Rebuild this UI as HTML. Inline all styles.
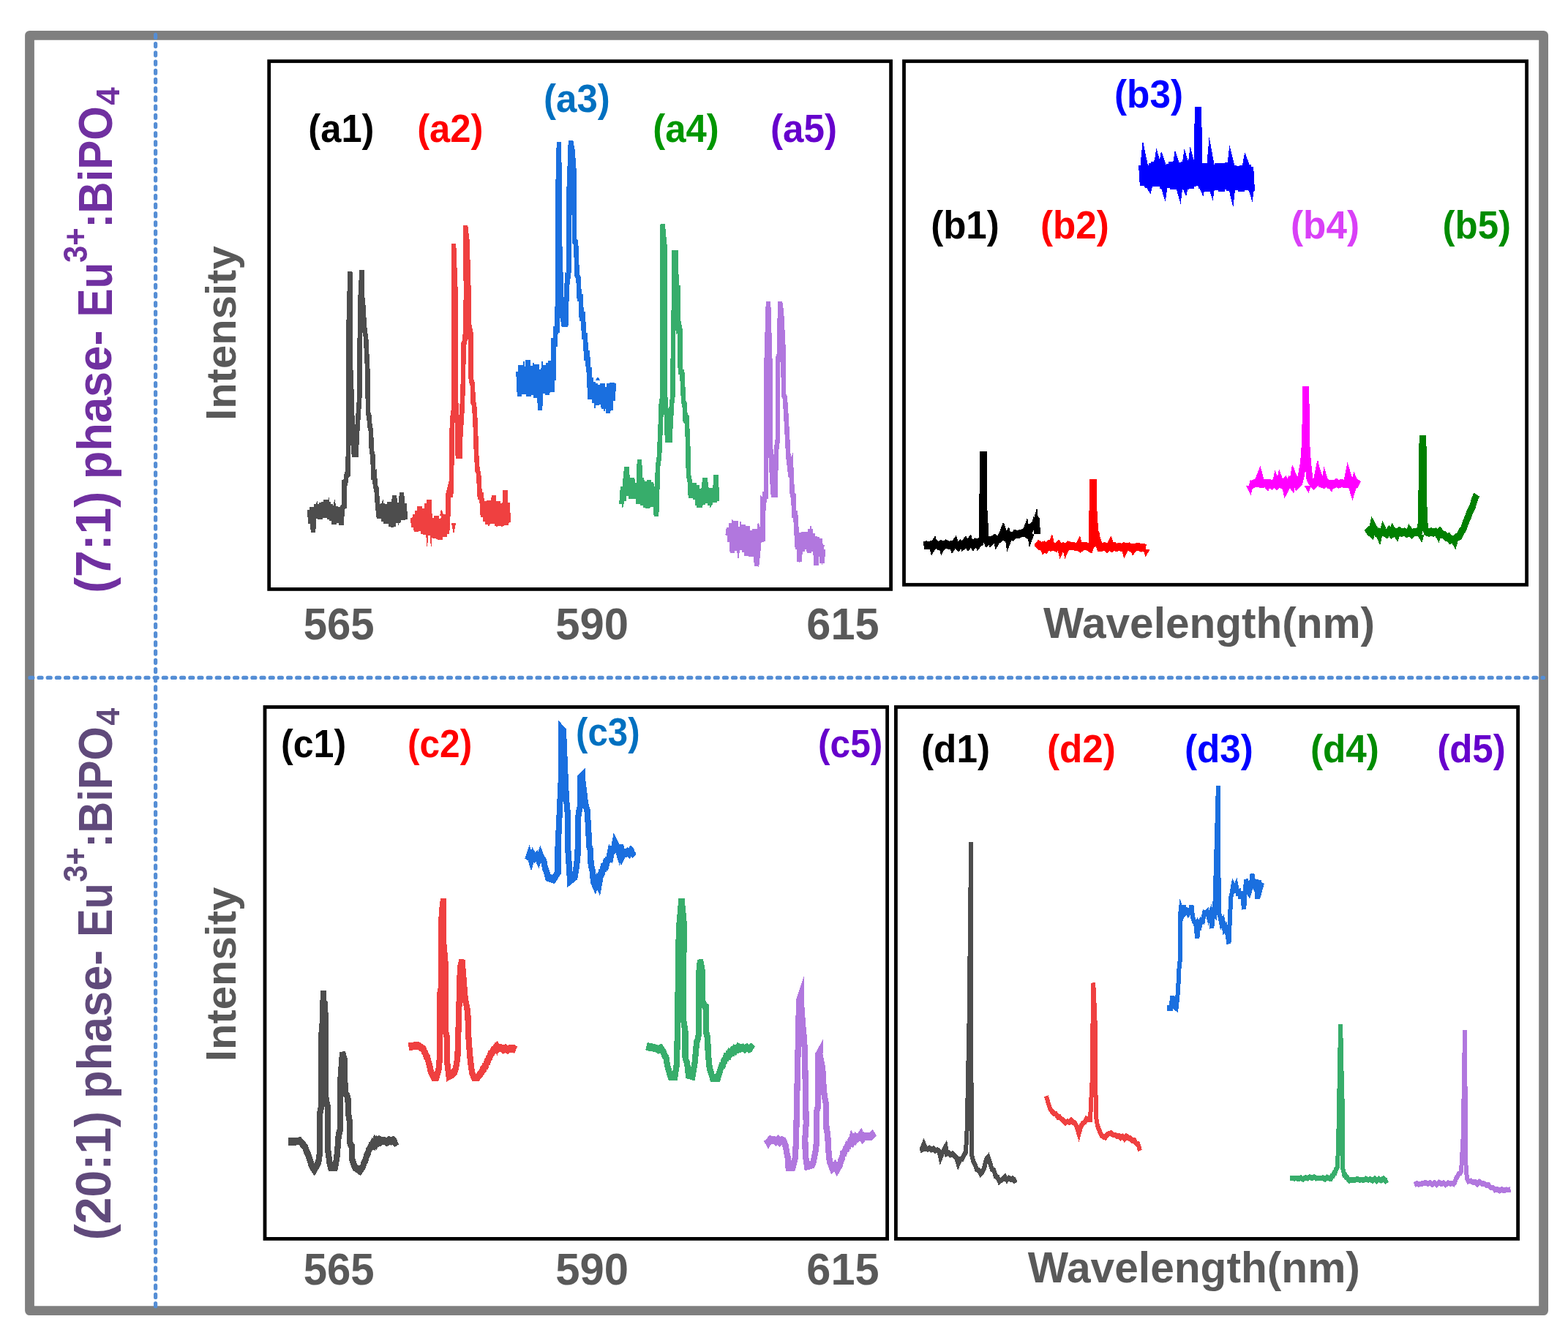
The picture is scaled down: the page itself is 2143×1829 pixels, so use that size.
<!DOCTYPE html>
<html lang="en"><head><meta charset="utf-8"><title>Eu3+:BiPO4 emission spectra</title>
<style>
html,body{margin:0;padding:0;background:#fff;}
body{width:2143px;height:1829px;overflow:hidden;}
svg{display:block;}
text{font-family:"Liberation Sans",sans-serif;font-weight:bold;font-size:100px;}
.sp polyline{fill:none;stroke-linejoin:miter;stroke-linecap:butt;}
.sp{shape-rendering:crispEdges;}
</style></head><body>
<svg xmlns="http://www.w3.org/2000/svg" width="2143" height="1829" viewBox="0 0 2143 1829">
<rect x="0" y="0" width="2143" height="1829" fill="#ffffff"/>
<rect x="40.50" y="48.40" width="2069.10" height="1743.20" fill="none" stroke="#7f7f7f" stroke-width="12.80" stroke-linejoin="round"/>
<g fill="none" stroke="#558ed5" stroke-width="5.2" stroke-linecap="round">
<line x1="212.6" y1="47.4" x2="212.6" y2="1786.2" stroke-dasharray="4 8.213"/>
<line x1="40.9" y1="926.4" x2="2109.5" y2="926.4" stroke-dasharray="4 8.16"/>
</g>
<g fill="none" stroke="#000000" stroke-linejoin="miter">
<rect x="367.70" y="83.70" width="849.90" height="721.70" stroke-width="4.80"/>
<rect x="1235.50" y="83.70" width="851.10" height="715.60" stroke-width="4.80"/>
<rect x="362.00" y="966.50" width="850.60" height="726.90" stroke-width="4.80"/>
<rect x="1224.40" y="966.50" width="850.20" height="726.90" stroke-width="4.80"/>
</g>
<g class="sp">
<polyline transform="scale(1 1.300)" points="423.0,535.9 424.6,550.7 426.2,533.2 428.0,560.0 429.4,533.2 431.0,544.3 432.6,530.0 434.2,545.3 435.9,530.3 437.5,545.7 439.1,528.6 440.7,543.9 442.3,527.9 443.9,544.5 445.5,526.0 447.1,541.7 448.7,528.2 450.3,545.9 451.9,530.0 453.5,547.5 455.1,532.2 456.8,551.5 458.4,532.7 460.0,549.6 461.6,533.5 463.2,546.9 464.8,535.3 466.4,552.1 468.0,533.9 470.5,532.3 470.5,507.7 472.2,507.5 473.8,499.0 475.5,498.5 476.0,469.2 476.5,346.2 478.5,285.8 479.0,384.6 480.5,415.4 482.0,461.5 483.8,477.3 486.8,477.3 487.5,461.5 488.5,450.0 491.5,415.4 492.0,323.1 494.5,284.2 494.5,307.7 496.5,323.1 497.5,338.5 498.8,349.8 500.0,353.8 502.5,392.3 503.0,434.6 504.2,436.3 505.5,448.5 506.8,452.3 508.0,475.1 509.2,478.0 510.5,499.2 511.8,498.4 513.0,511.3 514.5,514.0 516.0,530.8 518.0,544.9 519.6,533.1 521.3,544.4 522.9,529.6 524.5,548.1 526.2,531.0 527.8,550.5 529.5,530.0 531.1,546.6 532.7,527.8 534.4,554.0 536.0,532.7 537.6,553.9 539.0,520.8 540.9,547.6 542.5,534.1 544.2,549.5 545.8,529.1 547.5,545.1 549.0,517.7 550.7,546.6 552.4,529.7 554.0,546.4" stroke="#4d4d4d" stroke-width="6.6" stroke-miterlimit="4"/>
<polyline transform="scale(1 1.300)" points="564.0,544.1 565.6,554.4 567.2,541.5 568.9,558.7 570.5,537.0 572.1,553.6 573.7,532.7 575.3,558.5 577.0,535.2 578.6,561.3 580.2,534.9 581.8,562.0 583.4,529.2 585.1,563.2 586.5,525.4 588.3,561.5 589.9,545.1 591.6,562.7 593.2,544.9 594.8,566.2 596.4,542.8 598.0,560.4 599.7,546.1 601.3,567.5 602.9,545.5 604.5,562.1 606.1,541.2 607.8,564.2 609.4,544.2 611.0,561.3 612.5,538.5 612.5,520.0 614.0,515.5 615.5,522.8 617.0,515.4 617.5,453.8 618.8,437.4 620.0,430.8 620.5,307.7 620.0,256.2 622.5,307.7 622.5,415.4 625.0,446.2 625.8,479.2 628.5,479.2 629.0,461.5 631.5,430.8 633.0,400.0 633.5,361.5 634.8,360.1 636.0,350.0 637.0,307.7 636.0,237.3 638.5,253.8 640.5,307.7 641.0,347.7 642.2,345.7 643.5,350.8 643.5,396.2 644.8,402.7 646.0,403.8 646.5,423.1 648.0,425.0 649.5,442.3 650.0,453.8 651.0,476.9 652.5,494.6 654.0,497.4 656.0,525.2 657.5,517.9 659.0,530.8 660.0,543.7 661.6,526.9 663.2,548.2 664.8,530.9 666.4,551.3 668.0,526.4 669.5,550.3 671.1,527.7 672.7,546.0 675.0,520.8 675.9,550.5 677.5,533.1 679.1,552.8 680.7,527.5 682.3,549.3 683.9,529.7 685.5,552.9 687.0,532.1 688.6,547.0 690.7,515.4 691.8,552.2 693.4,528.5 695.0,549.7" stroke="#ef4040" stroke-width="6.6" stroke-miterlimit="4"/>
<polyline transform="scale(1 1.300)" points="708.5,390.7 710.1,417.1 711.7,383.8 713.2,414.1 714.8,385.2 716.4,412.2 718.0,386.0 719.6,414.5 721.2,378.4 722.8,417.0 724.3,387.1 725.9,414.9 727.5,384.6 729.1,412.0 730.7,386.9 732.2,418.1 733.8,383.5 735.4,412.4 737.0,389.1 738.0,431.5 740.2,388.8 741.8,410.3 743.3,384.4 744.9,413.6 746.5,389.3 748.1,415.3 749.7,381.8 751.2,411.2 752.8,379.6 754.4,412.2 756.0,386.1 757.0,400.0 756.5,355.4 758.2,364.6 759.8,343.4 761.5,350.0 762.0,307.7 762.0,215.4 764.0,149.6 765.0,253.8 767.0,307.7 768.0,330.8 770.3,340.2 773.3,340.2 774.0,323.1 775.0,292.3 776.2,293.2 777.5,284.6 777.5,203.8 780.0,148.1 782.5,158.5 784.5,180.0 785.0,253.8 787.0,254.7 788.8,290.0 790.5,292.0 792.0,316.7 793.5,309.4 795.0,337.8 796.5,327.6 798.2,353.6 799.8,353.6 801.5,378.9 802.8,369.0 804.2,391.5 805.5,386.2 806.0,419.9 807.6,396.9 809.1,415.8 810.7,401.6 812.3,423.6 813.9,403.6 815.4,425.6 817.0,404.7 818.6,425.2 820.1,406.2 821.7,423.7 823.3,403.1 824.9,430.0 826.4,407.5 828.0,430.0 829.6,408.8 831.1,434.1 832.7,403.6 834.3,431.4 835.9,402.2 837.4,421.2 839.0,402.6" stroke="#1a6fdf" stroke-width="6.6" stroke-miterlimit="4"/>
<polyline transform="scale(1 1.300)" points="849.5,530.0 851.1,512.2 852.8,526.7 854.4,507.0 856.3,491.5 857.6,502.8 859.2,521.2 860.9,503.3 862.5,524.5 864.1,502.7 865.8,524.3 867.4,507.7 869.0,522.9 870.6,508.3 872.2,529.7 874.0,483.1 875.5,527.1 877.1,502.5 878.8,531.2 880.4,507.3 882.0,534.0 883.6,506.1 885.2,534.1 886.9,505.1 888.5,526.8 890.1,506.8 891.8,532.7 893.4,511.7 897.0,543.1 898.5,507.7 899.0,490.8 901.0,480.0 903.5,433.1 903.5,426.9 905.5,415.4 905.5,235.8 908.5,259.2 909.0,415.4 911.0,438.5 912.0,462.0 915.5,462.0 916.0,453.8 918.0,425.4 919.5,415.4 920.0,355.4 921.6,298.5 921.6,266.5 923.6,266.5 924.5,298.5 925.6,304.3 926.8,300.0 926.8,343.1 928.1,341.3 929.5,346.9 929.5,384.6 930.8,393.6 932.0,388.5 934.3,423.1 935.6,424.8 936.9,444.0 938.2,436.8 940.0,461.5 941.0,499.2 943.0,507.7 944.0,523.8 945.6,509.3 947.3,522.3 948.9,508.1 950.5,525.1 952.2,510.3 953.8,531.3 955.5,515.0 957.1,533.2 958.7,514.1 960.4,530.7 962.0,511.4 963.6,503.1 965.3,513.4 966.9,529.1 968.5,513.7 970.2,531.0 971.8,513.2 973.5,525.2 975.1,514.6 976.7,528.2 978.5,499.2 980.0,527.2" stroke="#37ad6b" stroke-width="6.6" stroke-miterlimit="4"/>
<polyline transform="scale(1 1.300)" points="994.5,563.2 996.1,555.4 997.7,569.8 999.3,550.6 1000.9,581.3 1002.6,554.7 1004.2,576.5 1005.8,548.2 1007.4,578.9 1009.0,554.2 1010.6,578.3 1012.2,556.0 1013.8,577.0 1015.4,552.0 1017.1,580.9 1018.7,557.7 1020.3,584.8 1021.9,553.2 1023.5,584.8 1025.1,562.6 1026.7,583.4 1028.3,558.0 1029.9,585.1 1031.6,556.4 1033.2,577.8 1034.0,595.4 1036.4,577.7 1038.0,560.1 1042.5,569.2 1042.5,528.5 1044.0,530.1 1045.5,517.4 1047.0,524.6 1047.5,384.6 1050.0,317.3 1052.5,384.6 1053.0,469.2 1055.0,500.0 1056.8,519.6 1059.4,519.6 1060.0,500.0 1061.0,473.1 1063.0,461.5 1063.0,377.7 1064.2,377.6 1065.5,366.9 1066.0,317.3 1068.0,329.2 1070.5,366.9 1071.0,415.4 1072.8,418.0 1074.5,438.5 1077.5,480.8 1079.2,491.6 1081.0,488.2 1083.0,522.4 1084.2,518.9 1085.5,544.4 1086.8,537.2 1088.0,550.8 1089.0,565.4 1090.0,577.2 1091.6,560.5 1092.6,590.8 1094.8,563.5 1096.4,579.8 1098.0,559.7 1099.5,575.0 1101.1,561.1 1102.7,577.5 1104.3,559.7 1105.9,581.0 1107.5,556.4 1109.1,579.7 1110.7,561.3 1112.3,579.0 1113.9,564.1 1115.3,594.6 1117.0,565.0 1118.6,576.6 1120.2,566.5 1121.8,575.5 1123.5,592.3 1125.0,577.6" stroke="#b177de" stroke-width="6.6" stroke-miterlimit="4"/>
<polyline transform="scale(1 1.250)" points="1262.5,596.6 1265.9,595.8 1269.2,596.5 1272.6,595.8 1276.0,596.0 1279.3,595.0 1282.7,596.9 1286.1,595.2 1289.5,597.0 1292.8,594.6 1296.2,596.2 1299.6,595.9 1302.9,596.4 1306.3,594.8 1309.7,597.8 1313.0,595.0 1316.4,596.5 1319.8,592.5 1323.2,596.5 1326.5,592.8 1329.9,596.4 1333.3,592.9 1336.6,593.7 1340.0,592.9 1342.6,588.0 1343.2,498.0 1344.2,498.0 1344.6,552.0 1346.4,576.0 1346.8,588.8 1349.0,592.7 1352.5,590.7 1356.0,590.5 1359.5,588.7 1363.0,590.8 1366.5,588.8 1371.2,581.6 1373.5,587.5 1377.0,588.6 1380.5,585.6 1384.0,586.9 1387.5,583.7 1391.0,584.7 1394.5,583.4 1398.0,583.0 1401.5,582.9 1405.0,584.9 1409.0,576.8 1414.5,572.8 1416.5,566.4 1417.5,584.0" stroke="#000000" stroke-width="8.8" stroke-miterlimit="4"/>
<polyline transform="scale(1 1.250)" points="1416.5,599.1 1419.8,595.6 1423.2,597.4 1426.5,596.3 1429.9,599.7 1433.2,596.0 1436.5,598.4 1439.9,597.4 1443.2,598.9 1446.6,595.9 1449.9,599.5 1453.2,597.7 1456.6,598.9 1459.9,596.2 1463.3,597.2 1466.6,597.4 1470.0,597.8 1473.3,597.4 1476.6,599.6 1480.0,597.5 1483.3,597.2 1486.7,598.0 1490.0,599.5 1492.6,593.6 1493.2,528.4 1494.2,528.4 1494.6,552.8 1496.4,576.0 1496.8,593.6 1501.0,592.8 1503.0,598.6 1506.3,598.5 1509.6,597.3 1512.9,599.6 1516.3,597.3 1519.6,599.2 1522.9,597.3 1526.2,598.9 1529.5,597.9 1532.8,598.7 1536.2,597.5 1539.5,598.1 1542.8,597.7 1546.1,599.2 1549.4,598.8 1552.7,598.4 1556.1,597.8 1559.4,599.2 1562.7,598.8 1566.0,599.5" stroke="#ff0000" stroke-width="8.8" stroke-miterlimit="4"/>
<polyline transform="scale(1 1.250)" points="1560.5,180.8 1562.2,203.0 1563.9,181.4 1565.6,202.0 1567.3,180.9 1569.0,205.6 1570.8,182.1 1572.5,202.7 1574.2,179.1 1575.9,204.1 1577.6,177.2 1579.3,200.9 1581.0,175.4 1582.7,204.1 1584.4,176.5 1586.1,200.7 1587.8,181.5 1589.6,206.3 1591.3,181.7 1593.0,202.7 1594.7,181.5 1596.4,200.6 1598.1,179.8 1599.8,205.1 1601.5,176.8 1603.2,207.0 1604.9,179.2 1606.7,206.6 1608.4,182.0 1610.1,206.9 1611.8,180.9 1613.5,206.3 1615.2,178.0 1616.9,201.8 1618.6,177.1 1620.3,207.0 1622.0,177.1 1623.7,201.1 1625.5,181.4 1627.2,205.9 1628.9,176.6 1630.6,203.6 1632.3,178.7 1634.0,202.9 1636.6,188.0 1637.0,121.2 1638.0,121.2 1638.4,192.0 1641.0,183.1 1642.7,206.2 1644.4,178.4 1646.1,209.1 1647.8,179.8 1649.5,209.5 1651.2,181.3 1652.9,205.2 1654.6,179.4 1656.3,205.3 1658.0,180.3 1659.6,208.1 1661.3,183.7 1663.0,207.6 1664.7,178.3 1666.4,204.3 1668.1,182.4 1669.8,209.2 1671.5,178.9 1673.2,205.3 1674.9,179.4 1676.6,207.0 1678.3,178.0 1680.0,208.7 1681.7,180.8 1683.4,206.8 1685.1,180.9 1686.8,208.1 1688.5,182.0 1690.2,207.6 1691.9,182.1 1693.5,203.7 1695.2,183.5 1696.9,209.5 1698.6,181.4 1700.3,207.7 1702.0,180.8 1703.7,207.7 1705.4,180.0 1707.1,206.0 1708.8,182.4 1710.5,208.7" stroke="#0000ff" stroke-width="8.8" stroke-miterlimit="4"/>
<polyline transform="scale(1 1.250)" points="1707.5,529.1 1710.9,530.0 1714.3,528.5 1717.8,528.6 1721.7,520.8 1724.6,529.2 1728.0,528.8 1731.5,528.7 1734.9,528.2 1738.3,530.6 1741.8,527.6 1745.2,530.9 1748.6,528.7 1752.0,530.1 1755.5,527.3 1757.3,534.4 1762.3,526.8 1765.7,530.5 1767.8,520.8 1772.6,530.3 1776.0,527.6 1778.0,521.6 1781.5,505.6 1783.8,480.0 1784.2,426.7 1785.0,426.7 1785.4,480.0 1787.5,505.6 1790.0,524.0 1792.0,527.1 1795.4,530.3 1798.9,527.3 1801.3,517.6 1805.8,528.8 1809.2,529.8 1812.7,527.8 1816.1,530.0 1819.6,529.0 1823.0,529.8 1826.5,527.9 1829.9,529.5 1833.4,528.4 1836.8,529.2 1840.3,529.0 1842.5,520.0 1848.5,535.2 1850.6,530.0 1854.1,528.1 1857.5,530.3" stroke="#ff00ff" stroke-width="8.8" stroke-miterlimit="4"/>
<polyline transform="scale(1 1.250)" points="1867.5,583.3 1871.0,580.5 1874.4,583.2 1876.3,575.2 1881.3,582.3 1884.8,581.6 1888.2,582.4 1891.7,582.3 1895.1,583.9 1898.6,580.5 1902.0,584.0 1905.5,581.8 1908.9,582.8 1912.4,580.7 1915.8,582.6 1919.3,581.7 1922.7,583.3 1926.2,581.6 1929.6,584.1 1933.1,581.8 1936.5,582.1 1940.0,580.7 1942.2,572.0 1944.0,480.4 1945.0,480.4 1946.2,560.0 1947.5,577.6 1950.0,581.7 1953.0,582.5 1955.9,581.6 1958.9,582.5 1961.8,581.7 1964.8,583.4 1967.7,581.3 1970.7,584.5 1973.7,585.2 1976.6,587.5 1979.6,587.2 1982.5,590.5 1985.5,589.7 1988.4,590.1 1991.4,587.4 1994.3,586.5 1997.3,581.3 2000.3,578.1 2003.2,571.2 2006.2,565.8 2009.1,559.3 2012.1,555.0 2015.0,547.0 2018.0,540.8" stroke="#008000" stroke-width="8.8" stroke-miterlimit="4"/>
<polyline transform="scale(1 1.320)" points="394.3,1182.3 410.0,1181.7 416.0,1187.0 417.5,1188.6 419.1,1192.8 420.6,1194.5 422.1,1198.2 423.9,1201.6 425.6,1206.7 429.6,1211.4 435.1,1204.1 437.3,1192.4 437.3,1152.7 439.0,1146.2 439.0,1074.2 439.8,1067.4 440.7,1059.1 442.0,1026.1 442.2,1038.6 443.4,1039.4 443.4,1050.8 444.8,1051.5 444.8,1133.0 446.0,1140.1 447.8,1146.2 447.8,1189.5 449.1,1195.7 450.3,1203.8 452.0,1208.6 458.0,1208.6 460.3,1198.8 461.6,1187.4 462.9,1174.1 464.0,1172.6 465.2,1168.6 465.2,1119.8 466.5,1105.9 467.8,1093.5 468.0,1089.8 470.8,1097.4 471.6,1129.0 472.9,1133.2 474.2,1134.4 475.5,1138.3 476.0,1152.7 477.7,1160.6 478.1,1183.0 479.4,1185.5 480.7,1187.0 481.2,1200.2 483.3,1205.3 485.1,1208.9 487.0,1209.8 492.0,1212.5 496.0,1208.0 497.7,1203.9 499.5,1201.4 501.2,1196.7 502.6,1195.2 504.1,1190.8 505.5,1189.2 506.9,1186.8 508.3,1186.9 509.7,1184.1 511.1,1185.2 512.5,1182.1 514.0,1183.8 515.4,1181.4 516.9,1182.5 518.3,1181.0 519.8,1182.3 521.2,1181.1 523.0,1181.4 525.9,1181.6 528.7,1183.0 531.6,1180.9 534.4,1181.9 537.3,1180.9 540.1,1183.0 543.0,1181.5" stroke="#4d4d4d" stroke-width="8.2" stroke-miterlimit="4"/>
<polyline transform="scale(1 1.320)" points="558.5,1083.8 571.5,1082.8 578.5,1086.4 579.9,1089.1 581.3,1090.7 582.6,1094.2 584.0,1095.0 585.4,1099.0 587.1,1103.5 588.9,1110.2 592.5,1115.5 596.5,1115.5 600.0,1106.1 601.3,1087.9 601.4,1028.8 603.2,1022.0 603.2,956.1 604.0,943.2 606.2,930.7 606.3,977.3 607.7,989.1 608.9,1000.0 608.9,1068.2 610.3,1072.0 611.1,1075.8 611.3,1100.9 613.5,1114.4 619.0,1112.1 620.3,1109.9 621.5,1109.7 622.8,1106.6 624.1,1101.6 625.4,1094.3 626.8,1058.8 628.9,1002.3 631.5,994.2 635.8,1035.2 637.5,1040.9 639.3,1048.3 640.2,1072.0 641.5,1085.6 642.8,1097.8 644.1,1105.5 645.4,1111.4 648.0,1115.9 652.5,1115.9 658.4,1110.2 659.8,1107.5 661.2,1107.2 662.5,1104.2 663.9,1103.8 665.3,1099.9 666.6,1099.4 668.0,1095.4 669.3,1094.7 670.6,1091.2 672.3,1090.6 674.1,1087.3 675.8,1086.8 677.2,1085.1 678.7,1086.5 680.1,1084.3 681.6,1085.7 683.0,1085.2 685.0,1085.4 687.9,1086.9 690.7,1085.6 693.6,1087.2 696.4,1085.9 699.3,1086.3 702.1,1085.9 705.0,1087.4" stroke="#ef4040" stroke-width="8.2" stroke-miterlimit="4"/>
<polyline transform="scale(1 1.320)" points="721.0,890.8 723.5,885.2 726.0,891.2 728.5,885.3 731.0,888.4 733.5,886.3 736.0,890.6 738.5,885.0 741.0,889.9 743.4,891.8 745.1,899.5 746.9,902.4 749.0,908.7 756.5,910.6 762.5,903.6 762.5,878.6 766.9,806.2 767.0,758.3 770.0,758.3 773.8,826.0 775.9,843.1 776.4,881.3 778.0,898.4 779.0,912.1 784.0,909.1 785.5,908.1 786.9,901.8 788.2,895.6 789.5,885.2 790.3,845.8 791.6,839.4 792.9,835.2 793.0,806.8 796.0,806.8 799.9,831.2 801.2,836.0 802.5,839.2 804.2,857.6 805.1,876.0 806.8,879.9 807.7,895.8 809.5,900.9 811.0,912.9 813.5,917.4 816.0,912.1 818.5,916.7 821.6,903.6 823.0,903.5 824.4,898.6 825.8,898.8 827.2,894.8 828.6,895.7 830.3,890.5 832.1,889.8 833.8,883.3 835.2,885.3 836.6,880.1 838.0,880.3 839.0,878.4 840.4,872.7 843.7,877.8 846.0,883.6 848.2,875.0 850.7,886.3 853.0,882.9 855.3,883.5 857.7,882.1 860.0,883.7 862.3,880.9 864.7,883.2 867.0,881.1" stroke="#1a6fdf" stroke-width="8.2" stroke-miterlimit="4"/>
<polyline transform="scale(1 1.320)" points="883.5,1083.2 886.8,1084.3 890.0,1084.4 893.2,1085.2 896.5,1085.6 899.8,1087.0 903.0,1085.5 905.2,1087.8 906.9,1090.0 908.7,1093.6 910.4,1095.1 911.7,1101.8 913.0,1106.2 916.5,1114.6 922.5,1114.6 925.1,1100.9 926.0,1061.4 927.8,962.7 931.5,930.7 934.7,956.1 933.8,1054.8 935.1,1061.0 936.4,1068.0 936.4,1094.3 937.7,1098.3 939.0,1100.3 941.0,1113.3 946.5,1114.4 949.5,1100.9 950.8,1090.9 952.1,1079.3 953.4,1076.8 954.7,1072.0 954.7,1011.4 957.0,994.2 959.9,1006.1 959.9,1037.7 961.6,1039.0 963.4,1042.4 965.1,1043.0 965.1,1069.3 967.2,1074.6 967.7,1090.4 969.8,1106.2 974.0,1116.4 981.0,1116.4 985.1,1106.2 986.5,1103.5 987.9,1103.1 989.2,1099.0 990.6,1098.3 992.0,1094.8 993.4,1095.0 994.8,1092.4 996.2,1092.8 997.6,1089.7 999.0,1090.0 1000.5,1088.3 1001.9,1089.1 1003.4,1086.9 1004.8,1087.9 1006.2,1086.1 1007.7,1086.4 1009.0,1084.5 1011.9,1085.9 1014.9,1084.9 1017.8,1086.3 1020.7,1084.8 1023.6,1086.2 1026.6,1084.6 1029.5,1086.7" stroke="#37ad6b" stroke-width="8.2" stroke-miterlimit="4"/>
<polyline transform="scale(1 1.320)" points="1047.5,1179.4 1050.1,1183.2 1052.7,1180.0 1055.3,1180.7 1057.9,1180.5 1060.6,1182.1 1063.2,1180.2 1065.8,1182.6 1068.4,1180.7 1071.0,1181.7 1073.9,1187.0 1075.2,1193.6 1076.5,1197.5 1077.5,1208.6 1083.5,1208.6 1086.9,1198.8 1088.1,1179.1 1089.5,1126.4 1092.0,1038.6 1095.0,1038.6 1097.0,1060.6 1098.5,1072.5 1099.9,1086.9 1101.7,1163.3 1100.3,1179.1 1100.8,1196.2 1103.0,1207.6 1110.0,1206.1 1111.5,1203.6 1113.0,1198.1 1114.3,1193.6 1115.6,1185.6 1115.6,1152.7 1116.9,1148.6 1118.2,1146.1 1118.3,1093.9 1120.8,1093.9 1124.2,1106.7 1126.0,1130.3 1127.3,1137.1 1128.6,1142.2 1129.5,1168.6 1131.2,1175.1 1132.1,1189.6 1133.8,1202.7 1137.5,1209.8 1141.0,1206.8 1144.0,1211.4 1148.0,1206.1 1149.3,1201.5 1150.7,1200.2 1152.0,1194.8 1153.7,1194.1 1155.5,1190.2 1157.2,1189.4 1158.6,1185.8 1160.0,1186.0 1161.4,1183.0 1162.8,1183.4 1164.2,1179.1 1165.7,1181.3 1167.1,1178.9 1168.6,1180.1 1170.0,1177.7 1171.5,1178.7 1172.9,1177.7 1174.0,1177.7 1176.6,1174.8 1179.1,1179.0 1181.7,1176.6 1184.2,1177.1 1186.8,1177.0 1189.4,1176.8 1191.9,1175.0 1194.5,1178.6" stroke="#b177de" stroke-width="8.2" stroke-miterlimit="4"/>
<polyline transform="scale(1 1.250)" points="1257.5,1258.0 1260.1,1257.0 1262.6,1251.2 1265.3,1256.4 1267.9,1256.7 1270.5,1255.5 1273.1,1257.3 1275.7,1256.2 1278.3,1258.4 1280.9,1257.6 1283.5,1258.9 1285.5,1266.0 1288.8,1259.5 1292.5,1254.0 1294.0,1261.7 1296.6,1260.6 1299.2,1262.8 1301.8,1261.6 1304.4,1264.2 1307.0,1265.8 1309.6,1272.7 1312.2,1267.9 1314.8,1267.4 1317.4,1263.6 1320.0,1259.7 1321.7,1234.0 1324.5,1120.0 1327.2,921.2 1327.5,1184.0 1328.5,1264.0 1330.0,1269.3 1332.6,1273.6 1335.1,1278.9 1337.7,1279.8 1340.3,1283.7 1342.8,1281.4 1345.4,1276.4 1348.0,1267.9 1350.5,1265.5 1353.1,1271.8 1355.7,1278.6 1358.2,1279.6 1360.8,1286.4 1363.3,1287.2 1365.9,1292.0 1368.5,1290.5 1371.0,1289.1 1373.6,1287.2 1376.2,1290.4 1378.7,1288.3 1381.3,1289.8 1383.9,1288.9 1386.4,1291.0 1389.0,1289.7" stroke="#4d4d4d" stroke-width="6.0" stroke-miterlimit="4"/>
<polyline transform="scale(1 1.250)" points="1430.0,1198.6 1432.6,1206.3 1435.2,1212.6 1437.8,1215.3 1440.4,1217.9 1443.0,1218.1 1445.7,1221.5 1448.3,1221.7 1450.9,1224.1 1453.5,1225.3 1456.1,1227.8 1458.7,1226.4 1461.3,1227.3 1463.9,1225.1 1466.5,1227.4 1469.1,1228.1 1471.7,1232.7 1474.5,1240.0 1477.0,1232.1 1479.6,1228.6 1482.2,1227.3 1484.8,1223.4 1487.4,1224.2 1490.0,1224.4 1492.5,1184.0 1494.2,1074.9 1496.5,1113.6 1497.0,1184.0 1498.5,1224.0 1500.0,1231.0 1502.6,1236.4 1505.3,1241.5 1507.9,1243.1 1510.5,1243.9 1513.2,1240.6 1515.8,1239.6 1518.5,1239.3 1521.1,1240.9 1523.7,1241.2 1526.4,1242.4 1529.0,1242.2 1531.6,1244.2 1534.3,1242.7 1536.9,1245.4 1539.5,1242.6 1542.2,1244.6 1544.8,1244.8 1547.5,1247.5 1550.1,1246.9 1552.7,1250.2 1555.4,1251.1 1558.0,1258.3" stroke="#ef4040" stroke-width="6.0" stroke-miterlimit="4"/>
<polyline transform="scale(1 1.250)" points="1595.1,1102.4 1600.0,1102.4 1602.4,1089.6 1605.0,1100.8 1607.6,1102.4 1610.2,1083.0 1611.1,1062.2 1612.8,1049.6 1612.8,1001.6 1614.0,993.6 1616.0,998.4 1618.0,990.0 1620.0,997.8 1622.0,996.1 1624.0,999.3 1626.0,997.1 1628.5,990.4 1630.0,1002.6 1632.0,1007.7 1634.0,1008.9 1636.3,1026.4 1638.0,1009.9 1640.0,1012.4 1642.0,1006.4 1644.0,1007.1 1646.0,998.3 1648.0,999.1 1650.0,997.2 1652.0,1003.7 1654.0,999.3 1656.3,1015.2 1658.0,997.7 1660.0,999.8 1662.0,944.0 1664.9,859.5 1665.5,960.0 1666.5,1000.0 1667.5,1002.2 1669.4,1010.3 1671.4,1007.3 1673.3,1016.1 1675.2,1013.8 1677.1,1019.7 1679.4,1032.0 1681.0,1003.4 1682.3,980.8 1683.5,977.0 1685.5,968.0 1687.5,971.2 1689.4,968.0 1691.4,976.1 1693.4,975.1 1695.4,982.6 1697.3,974.9 1700.2,994.4 1701.3,978.8 1703.2,961.6 1705.2,974.0 1707.2,976.8 1709.2,971.6 1711.5,956.0 1713.1,966.7 1715.1,970.3 1717.1,961.7 1718.5,983.2 1721.0,963.2 1723.0,971.2 1725.0,965.3" stroke="#1a6fdf" stroke-width="6.0" stroke-miterlimit="4"/>
<polyline transform="scale(1 1.250)" points="1763.0,1288.5 1766.0,1288.2 1769.0,1288.7 1772.0,1288.3 1775.0,1289.3 1778.0,1288.2 1781.0,1289.5 1784.0,1287.9 1787.0,1288.6 1790.0,1287.3 1793.0,1288.5 1796.0,1287.2 1799.0,1288.6 1802.0,1288.3 1805.0,1288.5 1808.0,1288.1 1811.0,1289.6 1814.0,1287.6 1817.0,1288.8 1819.0,1288.8 1820.3,1286.1 1821.7,1286.0 1823.0,1283.1 1824.3,1282.9 1826.0,1278.8 1827.7,1276.3 1829.0,1256.9 1832.1,1120.2 1833.8,1181.8 1835.0,1215.2 1835.2,1277.8 1837.3,1285.0 1838.7,1285.3 1840.1,1287.7 1841.4,1287.8 1842.8,1290.0 1844.2,1291.0 1846.0,1290.3 1849.0,1290.5 1851.9,1290.3 1854.9,1289.2 1857.9,1290.5 1860.9,1290.0 1863.8,1290.7 1866.8,1289.0 1869.8,1290.3 1872.7,1289.3 1875.7,1291.1 1878.7,1289.0 1881.6,1291.3 1884.6,1289.4 1887.6,1291.0 1890.6,1289.0 1893.5,1291.5 1896.5,1290.0" stroke="#37ad6b" stroke-width="6.0" stroke-miterlimit="4"/>
<polyline transform="scale(1 1.250)" points="1933.0,1295.5 1936.1,1294.3 1939.1,1295.1 1942.2,1294.7 1945.2,1294.1 1948.3,1293.4 1951.4,1294.5 1954.4,1293.5 1957.5,1295.2 1960.5,1293.5 1963.6,1295.5 1966.6,1293.1 1969.7,1294.7 1972.8,1293.7 1975.8,1295.5 1978.9,1293.7 1981.9,1294.4 1985.0,1294.1 1986.7,1294.7 1988.4,1292.7 1990.2,1288.3 1991.9,1286.8 1993.6,1283.8 1995.4,1283.0 1997.1,1280.5 1999.7,1243.0 2002.0,1126.1 2003.2,1270.8 2004.9,1288.8 2007.0,1291.8 2010.0,1291.4 2013.1,1292.8 2016.1,1292.5 2019.1,1294.8 2022.1,1292.5 2025.2,1294.4 2028.2,1294.5 2031.2,1295.9 2034.2,1295.9 2037.3,1298.6 2040.3,1298.6 2043.3,1301.2 2046.3,1300.5 2049.4,1302.2 2052.4,1300.6 2055.4,1302.0 2058.4,1300.9 2061.5,1301.3 2064.5,1300.8" stroke="#b177de" stroke-width="6.0" stroke-miterlimit="4"/>
<polygon points="763.1,996.5 763.1,984.8 773.9,996.5" fill="#1a6fdf"/>
<polygon points="789.1,1060.5 799.7,1050.0 799.9,1060.5" fill="#1a6fdf"/>
<polygon points="1088.1,1366.5 1098.7,1334.7 1098.9,1366.5" fill="#b177de"/>
<polygon points="1114.4,1439.5 1124.7,1421.1 1124.7,1439.5" fill="#b177de"/>
<polygon points="1271.4,742.2 1278.2,732.0 1281.0,742.2" fill="#000000"/>
<polygon points="1300.1,740.7 1306.9,732.0 1309.7,740.7" fill="#000000"/>
<polygon points="1320.1,739.7 1326.9,730.0 1329.7,739.7" fill="#000000"/>
<polygon points="1364.4,731.7 1371.2,713.0 1374.0,731.7" fill="#000000"/>
<polygon points="1372.2,730.2 1379.0,720.0 1381.8,730.2" fill="#000000"/>
<polygon points="1397.4,725.2 1404.2,707.7 1407.0,725.2" fill="#000000"/>
<polygon points="1410.4,719.4 1417.2,693.0 1420.0,719.4" fill="#000000"/>
<polygon points="1270.2,748.5 1273.0,759.5 1279.8,748.5" fill="#000000"/>
<polygon points="1283.2,747.8 1286.0,759.5 1292.8,747.8" fill="#000000"/>
<polygon points="1298.0,747.0 1300.8,757.5 1307.6,747.0" fill="#000000"/>
<polygon points="1311.9,746.3 1314.7,754.0 1321.5,746.3" fill="#000000"/>
<polygon points="1332.8,745.2 1335.6,753.0 1342.4,745.2" fill="#000000"/>
<polygon points="1350.2,741.2 1353.0,749.0 1359.8,741.2" fill="#000000"/>
<polygon points="1357.9,739.7 1360.7,751.5 1367.5,739.7" fill="#000000"/>
<polygon points="1373.6,736.7 1376.4,754.0 1383.2,736.7" fill="#000000"/>
<polygon points="1404.0,730.2 1406.8,748.5 1413.6,730.2" fill="#000000"/>
<polygon points="1431.7,744.0 1438.0,730.0 1441.3,744.0" fill="#ff0000"/>
<polygon points="1469.7,744.0 1476.0,732.0 1479.3,744.0" fill="#ff0000"/>
<polygon points="1495.7,744.0 1502.0,725.0 1505.3,744.0" fill="#ff0000"/>
<polygon points="1512.5,744.0 1518.8,732.0 1522.1,744.0" fill="#ff0000"/>
<polygon points="1445.2,750.5 1448.5,764.0 1454.8,750.5" fill="#ff0000"/>
<polygon points="1452.1,750.5 1455.4,764.0 1461.7,750.5" fill="#ff0000"/>
<polygon points="1532.9,750.5 1536.2,764.0 1542.5,750.5" fill="#ff0000"/>
<polygon points="1562.2,750.5 1565.5,761.5 1571.8,750.5" fill="#ff0000"/>
<polygon points="1421.7,750.5 1425.0,759.0 1431.3,750.5" fill="#ff0000"/>
<polygon points="1544.7,750.5 1548.0,760.0 1554.3,750.5" fill="#ff0000"/>
<polygon points="1718.4,658.0 1721.7,638.0 1728.0,658.0" fill="#ff00ff"/>
<polygon points="1739.2,658.0 1742.5,643.0 1748.8,658.0" fill="#ff00ff"/>
<polygon points="1744.7,658.0 1748.0,641.0 1754.3,658.0" fill="#ff00ff"/>
<polygon points="1764.5,658.0 1767.8,637.7 1774.1,658.0" fill="#ff00ff"/>
<polygon points="1798.0,658.0 1801.3,629.0 1807.6,658.0" fill="#ff00ff"/>
<polygon points="1806.2,658.0 1809.5,638.0 1815.8,658.0" fill="#ff00ff"/>
<polygon points="1839.2,658.0 1842.5,636.0 1848.8,658.0" fill="#ff00ff"/>
<polygon points="1847.0,658.0 1850.3,645.0 1856.6,658.0" fill="#ff00ff"/>
<polygon points="1703.2,664.0 1709.5,676.8 1712.8,664.0" fill="#ff00ff"/>
<polygon points="1751.0,664.0 1757.3,678.5 1760.6,664.0" fill="#ff00ff"/>
<polygon points="1782.3,664.0 1788.6,673.8 1791.9,664.0" fill="#ff00ff"/>
<polygon points="1842.2,664.0 1848.5,682.0 1851.8,664.0" fill="#ff00ff"/>
<polygon points="1726.7,664.0 1733.0,672.0 1736.3,664.0" fill="#ff00ff"/>
<polygon points="1813.7,664.0 1820.0,673.0 1823.3,664.0" fill="#ff00ff"/>
<polygon points="1873.0,725.0 1876.3,708.0 1882.6,725.0" fill="#008000"/>
<polygon points="1886.1,725.0 1889.4,712.0 1895.7,725.0" fill="#008000"/>
<polygon points="1899.1,725.0 1902.4,714.6 1908.7,725.0" fill="#008000"/>
<polygon points="1922.0,725.0 1925.3,715.8 1931.6,725.0" fill="#008000"/>
<polygon points="1879.9,731.0 1886.2,745.4 1889.5,731.0" fill="#008000"/>
<polygon points="1903.9,731.0 1910.2,741.0 1913.5,731.0" fill="#008000"/>
<polygon points="1936.9,731.0 1943.2,742.0 1946.5,731.0" fill="#008000"/>
<polygon points="1960.4,731.0 1966.7,742.0 1970.0,731.0" fill="#008000"/>
<polygon points="1983.0,740.1 1989.3,751.5 1992.6,740.1" fill="#008000"/>
<polygon points="1558.3,228.0 1561.8,192.0 1569.3,228.0" fill="#0000ff"/>
<polygon points="1576.8,228.0 1580.3,202.0 1587.8,228.0" fill="#0000ff"/>
<polygon points="1583.5,228.0 1587.0,206.0 1594.5,228.0" fill="#0000ff"/>
<polygon points="1602.3,228.0 1605.8,205.0 1613.3,228.0" fill="#0000ff"/>
<polygon points="1615.1,228.0 1618.6,203.0 1626.1,228.0" fill="#0000ff"/>
<polygon points="1623.1,228.0 1626.6,200.0 1634.1,228.0" fill="#0000ff"/>
<polygon points="1649.1,228.0 1652.6,187.0 1660.1,228.0" fill="#0000ff"/>
<polygon points="1676.9,228.0 1680.4,199.0 1687.9,228.0" fill="#0000ff"/>
<polygon points="1697.7,228.0 1701.2,207.7 1708.7,228.0" fill="#0000ff"/>
<polygon points="1564.8,252.0 1572.3,265.7 1575.8,252.0" fill="#0000ff"/>
<polygon points="1585.2,252.0 1592.7,275.7 1596.2,252.0" fill="#0000ff"/>
<polygon points="1606.0,252.0 1613.5,278.8 1617.0,252.0" fill="#0000ff"/>
<polygon points="1613.7,252.0 1621.2,268.7 1624.7,252.0" fill="#0000ff"/>
<polygon points="1636.9,252.0 1644.4,268.7 1647.9,252.0" fill="#0000ff"/>
<polygon points="1650.0,252.0 1657.5,274.2 1661.0,252.0" fill="#0000ff"/>
<polygon points="1677.8,252.0 1685.3,283.7 1688.8,252.0" fill="#0000ff"/>
<polygon points="1704.0,252.0 1711.5,275.7 1715.0,252.0" fill="#0000ff"/>
<polygon points="424.0,705.0 428.0,731.0 430.0,705.0" fill="#4d4d4d"/>
<polygon points="537.0,700.0 539.0,676.0 543.0,700.0" fill="#4d4d4d"/>
<polygon points="547.0,700.0 549.0,671.0 553.0,700.0" fill="#4d4d4d"/>
<polygon points="521.0,700.0 523.0,680.0 527.0,700.0" fill="#4d4d4d"/>
<polygon points="531.0,700.0 535.0,723.7 537.0,700.0" fill="#4d4d4d"/>
<polygon points="541.0,700.0 545.0,720.0 547.0,700.0" fill="#4d4d4d"/>
<polygon points="431.0,700.0 433.0,683.0 437.0,700.0" fill="#4d4d4d"/>
<polygon points="447.0,700.0 449.0,677.0 453.0,700.0" fill="#4d4d4d"/>
<polygon points="455.0,700.0 457.0,681.0 461.0,700.0" fill="#4d4d4d"/>
<polygon points="580.8,715.0 583.8,750.7 586.8,715.0" fill="#ef4040"/>
<polygon points="586.2,715.0 589.2,750.7 592.2,715.0" fill="#ef4040"/>
<polygon points="594.0,715.0 597.0,741.0 600.0,715.0" fill="#ef4040"/>
<polygon points="617.0,715.0 620.0,731.0 623.0,715.0" fill="#ef4040"/>
<polygon points="584.0,705.0 586.0,681.0 590.0,705.0" fill="#ef4040"/>
<polygon points="673.0,705.0 675.0,675.8 679.0,705.0" fill="#ef4040"/>
<polygon points="688.7,705.0 690.7,668.0 694.7,705.0" fill="#ef4040"/>
<polygon points="601.0,705.0 603.0,696.0 607.0,705.0" fill="#ef4040"/>
<polygon points="665.0,705.0 668.0,722.0 671.0,705.0" fill="#ef4040"/>
<polygon points="676.0,705.0 679.0,723.0 682.0,705.0" fill="#ef4040"/>
<polygon points="683.0,705.0 686.0,723.0 689.0,705.0" fill="#ef4040"/>
<polygon points="734.8,535.0 738.0,563.6 741.2,535.0" fill="#1a6fdf"/>
<polygon points="809.8,535.0 813.0,562.0 816.2,535.0" fill="#1a6fdf"/>
<polygon points="822.8,535.0 826.0,567.0 829.2,535.0" fill="#1a6fdf"/>
<polygon points="829.8,535.0 833.0,563.0 836.2,535.0" fill="#1a6fdf"/>
<polygon points="712.8,520.0 716.0,489.0 719.2,520.0" fill="#1a6fdf"/>
<polygon points="725.8,520.0 729.0,492.0 732.2,520.0" fill="#1a6fdf"/>
<polygon points="737.8,520.0 741.0,489.0 744.2,520.0" fill="#1a6fdf"/>
<polygon points="813.8,520.0 817.0,515.0 820.2,520.0" fill="#1a6fdf"/>
<polygon points="854.1,672.0 856.3,637.0 860.5,672.0" fill="#37ad6b"/>
<polygon points="871.8,672.0 874.0,625.7 878.2,672.0" fill="#37ad6b"/>
<polygon points="961.4,672.0 963.6,652.7 967.8,672.0" fill="#37ad6b"/>
<polygon points="976.8,672.0 979.0,648.0 983.2,672.0" fill="#37ad6b"/>
<polygon points="894.2,676.0 897.2,707.6 900.2,676.0" fill="#37ad6b"/>
<polygon points="848.0,676.0 851.0,697.0 854.0,676.0" fill="#37ad6b"/>
<polygon points="950.0,676.0 953.0,698.0 956.0,676.0" fill="#37ad6b"/>
<polygon points="968.0,676.0 971.0,697.0 974.0,676.0" fill="#37ad6b"/>
<polygon points="1030.8,745.0 1034.0,776.0 1037.2,745.0" fill="#b177de"/>
<polygon points="1005.8,745.0 1009.0,766.0 1012.2,745.0" fill="#b177de"/>
<polygon points="1089.4,745.0 1092.6,770.0 1095.8,745.0" fill="#b177de"/>
<polygon points="1112.1,745.0 1115.3,774.7 1118.5,745.0" fill="#b177de"/>
<polygon points="1120.3,745.0 1123.5,771.7 1126.7,745.0" fill="#b177de"/>
<polygon points="997.8,735.0 1001.0,706.0 1004.2,735.0" fill="#b177de"/>
<polygon points="1008.8,735.0 1012.0,709.0 1015.2,735.0" fill="#b177de"/>
<polygon points="1104.8,735.0 1108.0,716.0 1111.2,735.0" fill="#b177de"/>
</g>
<g>
<text transform="matrix(0.5807 0 0 0.6028 414.76 873.70)" fill="#595959">565</text>
<text transform="matrix(0.5987 0 0 0.6028 759.20 873.70)" fill="#595959">590</text>
<text transform="matrix(0.5944 0 0 0.6028 1102.32 873.70)" fill="#595959">615</text>
<text transform="matrix(0.5854 0 0 0.5904 1425.90 872.30)" fill="#595959">Wavelength(nm)</text>
<text transform="matrix(0.5807 0 0 0.6028 414.76 1756.00)" fill="#595959">565</text>
<text transform="matrix(0.5987 0 0 0.6028 759.20 1756.00)" fill="#595959">590</text>
<text transform="matrix(0.5944 0 0 0.6028 1102.32 1756.00)" fill="#595959">615</text>
<text transform="matrix(0.5866 0 0 0.5904 1404.80 1753.40)" fill="#595959">Wavelength(nm)</text>
<text transform="matrix(0.5065 0 0 0.5326 421.37 193.61)" fill="#000000">(a1)</text>
<text transform="matrix(0.5083 0 0 0.5326 570.16 193.61)" fill="#ff0000">(a2)</text>
<text transform="matrix(0.5101 0 0 0.5348 743.05 152.77)" fill="#0070c0">(a3)</text>
<text transform="matrix(0.5083 0 0 0.5348 892.36 193.77)" fill="#009600">(a4)</text>
<text transform="matrix(0.5119 0 0 0.5348 1052.94 193.77)" fill="#6600cc">(a5)</text>
<text transform="matrix(0.5107 0 0 0.5326 1272.15 325.61)" fill="#000000">(b1)</text>
<text transform="matrix(0.5118 0 0 0.5326 1421.94 325.61)" fill="#ff0000">(b2)</text>
<text transform="matrix(0.5135 0 0 0.5337 1522.93 146.79)" fill="#0000ff">(b3)</text>
<text transform="matrix(0.5124 0 0 0.5348 1764.04 325.77)" fill="#d940f7">(b4)</text>
<text transform="matrix(0.5095 0 0 0.5348 1971.55 325.77)" fill="#008c00">(b5)</text>
<text transform="matrix(0.5018 0 0 0.5305 383.99 1035.46)" fill="#000000">(c1)</text>
<text transform="matrix(0.4964 0 0 0.5305 556.92 1035.46)" fill="#ff0000">(c2)</text>
<text transform="matrix(0.4929 0 0 0.5348 787.04 1018.77)" fill="#0070c0">(c3)</text>
<text transform="matrix(0.4964 0 0 0.5305 1118.02 1035.46)" fill="#6600cc">(c5)</text>
<text transform="matrix(0.5124 0 0 0.5348 1259.04 1041.77)" fill="#000000">(d1)</text>
<text transform="matrix(0.5130 0 0 0.5348 1430.94 1041.77)" fill="#ff0000">(d2)</text>
<text transform="matrix(0.5130 0 0 0.5348 1618.94 1041.77)" fill="#0000ff">(d3)</text>
<text transform="matrix(0.5130 0 0 0.5348 1790.94 1041.77)" fill="#008c00">(d4)</text>
<text transform="matrix(0.5107 0 0 0.5348 1964.15 1041.77)" fill="#6600cc">(d5)</text>
<text transform="matrix(0 -0.5804 0.5668 0 322.10 574.97)" fill="#595959">Intensity</text>
<text transform="matrix(0 -0.5802 0.5668 0 322.10 1451.17)" fill="#595959">Intensity</text>
<text transform="matrix(0 -0.6581 0.6802 0 151.32 810.79)" fill="#7030a0">(7:1)</text>
<text transform="matrix(0 -0.6324 0.6663 0 151.61 655.31)" fill="#7030a0">phase-</text>
<text transform="matrix(0 -0.5852 0.6643 0 153.14 433.50)" fill="#7030a0">Eu</text>
<text transform="matrix(0 -0.4186 0.4592 0 119.44 359.05)" fill="#7030a0">3+</text>
<text transform="matrix(0 -0.5996 0.6449 0 153.36 311.70)" fill="#7030a0">:BiPO</text>
<text transform="matrix(0 -0.4393 0.4522 0 163.10 143.86)" fill="#7030a0">4</text>
<text transform="matrix(0 -0.6607 0.6802 0 151.32 1695.30)" fill="#604a7b">(20:1)</text>
<text transform="matrix(0 -0.6314 0.6663 0 151.61 1502.10)" fill="#604a7b">phase-</text>
<text transform="matrix(0 -0.5755 0.6643 0 153.14 1280.74)" fill="#604a7b">Eu</text>
<text transform="matrix(0 -0.4158 0.4592 0 119.44 1205.74)" fill="#604a7b">3+</text>
<text transform="matrix(0 -0.5958 0.6449 0 153.36 1158.66)" fill="#604a7b">:BiPO</text>
<text transform="matrix(0 -0.4318 0.4522 0 163.10 991.65)" fill="#604a7b">4</text>
</g>
</svg>
</body></html>
